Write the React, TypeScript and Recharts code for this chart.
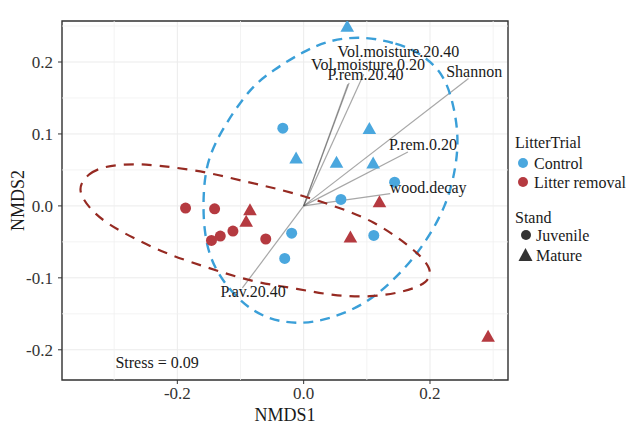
import React from "react";
import {
  ComposedChart,
  Scatter,
  XAxis,
  YAxis,
  CartesianGrid,
  ReferenceLine,
  ReferenceArea,
  Legend,
} from "recharts";

// ─── Data ─────────────────────────────────────────────────────────
const X_DOMAIN: [number, number] = [-0.3826, 0.3235];
const Y_DOMAIN: [number, number] = [-0.242, 0.257];
const X_TICKS = [-0.2, 0, 0.2];
const Y_TICKS = [-0.2, -0.1, 0, 0.1, 0.2];
const X_MINOR = [-0.3, -0.1, 0.1, 0.3];
const Y_MINOR = [-0.15, -0.05, 0.05, 0.15, 0.25];

const controlJuvenile = [
  { x: -0.033, y: 0.108 },
  { x: 0.144, y: 0.033 },
  { x: 0.059, y: 0.009 },
  { x: -0.019, y: -0.038 },
  { x: -0.03, y: -0.073 },
  { x: 0.111, y: -0.041 },
];
const controlMature = [
  { x: 0.069, y: 0.249 },
  { x: -0.012, y: 0.066 },
  { x: 0.052, y: 0.06 },
  { x: 0.104, y: 0.107 },
  { x: 0.11, y: 0.059 },
];
const litterJuvenile = [
  { x: -0.187, y: -0.003 },
  { x: -0.141, y: -0.004 },
  { x: -0.146, y: -0.048 },
  { x: -0.132, y: -0.042 },
  { x: -0.112, y: -0.035 },
  { x: -0.06, y: -0.046 },
];
const litterMature = [
  { x: -0.085, y: -0.006 },
  { x: -0.091, y: -0.022 },
  { x: 0.12, y: 0.005 },
  { x: 0.074, y: -0.044 },
  { x: 0.292, y: -0.182 },
];

// ellipse outlines
const controlEllipse = [
  { x: 0.0945, y: 0.236 }, { x: 0.148, y: 0.226 }, { x: 0.185, y: 0.2125 },
  { x: 0.221, y: 0.185 }, { x: 0.237, y: 0.143 }, { x: 0.245, y: 0.099 },
  { x: 0.242, y: 0.057 }, { x: 0.227, y: 0.001 }, { x: 0.189, y: -0.057 },
  { x: 0.148, y: -0.099 }, { x: 0.101, y: -0.135 }, { x: 0.047, y: -0.156 },
  { x: -0.005, y: -0.165 }, { x: -0.057, y: -0.158 }, { x: -0.1, y: -0.135 },
  { x: -0.145, y: -0.086 }, { x: -0.159, y: -0.033 }, { x: -0.159, y: 0.026 },
  { x: -0.151, y: 0.068 }, { x: -0.127, y: 0.11 }, { x: -0.084, y: 0.165 },
  { x: -0.048, y: 0.189 }, { x: 0.0, y: 0.215 }, { x: 0.042, y: 0.231 },
];
const litterEllipse = [
  { x: -0.354, y: 0.03 }, { x: -0.34, y: 0.045 }, { x: -0.319, y: 0.054 },
  { x: -0.287, y: 0.058 }, { x: -0.251, y: 0.058 }, { x: -0.208, y: 0.054 },
  { x: -0.148, y: 0.046 }, { x: -0.089, y: 0.033 }, { x: -0.042, y: 0.024 },
  { x: 0.011, y: 0.011 }, { x: 0.074, y: -0.008 }, { x: 0.11, y: -0.022 },
  { x: 0.148, y: -0.043 }, { x: 0.18, y: -0.065 }, { x: 0.203, y: -0.087 },
  { x: 0.198, y: -0.107 }, { x: 0.158, y: -0.12 }, { x: 0.106, y: -0.127 },
  { x: 0.047, y: -0.125 }, { x: -0.01, y: -0.115 }, { x: -0.073, y: -0.107 },
  { x: -0.127, y: -0.093 }, { x: -0.179, y: -0.078 }, { x: -0.224, y: -0.064 },
  { x: -0.271, y: -0.044 }, { x: -0.309, y: -0.026 }, { x: -0.337, y: -0.006 },
  { x: -0.354, y: 0.016 },
];

// envfit vectors (arrow tips) and their label positions
const envVectors = [
  { name: "Vol.moisture.20.40", x: 0.095, y: 0.183 },
  { name: "Vol.moisture.0.20", x: 0.072, y: 0.171 },
  { name: "P.rem.20.40", x: 0.07, y: 0.169 },
  { name: "Shannon", x: 0.261, y: 0.177 },
  { name: "P.rem.0.20", x: 0.165, y: 0.075 },
  { name: "wood.decay", x: 0.137, y: 0.017 },
  { name: "P.av.20.40", x: -0.097, y: -0.114 },
];
const vectorLabels = [
  { name: "Vol.moisture.20.40", x: 0.15, y: 0.214 },
  { name: "Vol.moisture.0.20", x: 0.102, y: 0.197 },
  { name: "P.rem.20.40", x: 0.098, y: 0.182 },
  { name: "Shannon", x: 0.27, y: 0.187 },
  { name: "P.rem.0.20", x: 0.189, y: 0.085 },
  { name: "wood.decay", x: 0.197, y: 0.025 },
  { name: "P.av.20.40", x: -0.08, y: -0.119 },
];
const stressNote = [{ name: "Stress = 0.09", x: -0.298, y: -0.218 }];

const trialLegend = ["Control", "Litter removal"];
const standLegend = ["Juvenile", "Mature"];

// ─── Styling ──────────────────────────────────────────────────────
const FONT = "Liberation Serif, DejaVu Serif, serif";
const BLUE = "#4aa7de";
const RED = "#b53a40";
const BLUE_LINE = "#3a9fd8";
const RED_LINE = "#962a22";
const INK = "#333333";

const circleShape = (color: string) => (p: any) =>
  <circle cx={p.cx} cy={p.cy} r={5.5} fill={color} />;

const triangleShape = (color: string) => (p: any) => (
  <path
    d={`M${p.cx},${p.cy - 7}L${p.cx + 6.8},${p.cy + 5}L${p.cx - 6.8},${p.cy + 5}Z`}
    fill={color}
  />
);

const textShape = (anchor: "middle" | "start") => (p: any) => (
  <text
    x={p.cx}
    y={p.cy}
    textAnchor={anchor}
    dominantBaseline="central"
    fontFamily={FONT}
    fontSize={16}
    fill="#1a1a1a"
  >
    {p.payload.name}
  </text>
);

const noShape = () => <g />;

function LegendBox() {
  const trialColors = [BLUE, RED];
  return (
    <svg width={121} height={150} fontFamily={FONT} fontSize={16}>
      <text x={7} y={22} dominantBaseline="central" fill="#1a1a1a">LitterTrial</text>
      {trialLegend.map((name, i) => (
        <g key={name}>
          <circle cx={15} cy={43 + i * 19} r={5} fill={trialColors[i]} />
          <text x={26} y={43 + i * 19} dominantBaseline="central" fill="#1a1a1a">{name}</text>
        </g>
      ))}
      <text x={7} y={97} dominantBaseline="central" fill="#1a1a1a">Stand</text>
      <circle cx={18} cy={115} r={5} fill={INK} />
      <text x={28} y={115} dominantBaseline="central" fill="#1a1a1a">{standLegend[0]}</text>
      <path d="M17.5,128L24.5,141L10.5,141Z" fill={INK} />
      <text x={28} y={135} dominantBaseline="central" fill="#1a1a1a">{standLegend[1]}</text>
    </svg>
  );
}

export default function App() {
  const tick = { fill: INK, fontSize: 17, fontFamily: FONT };
  return (
    <div style={{ position: "absolute", left: 0, top: 0, background: "#fff", fontFamily: FONT }}>
      <ComposedChart
        width={629}
        height={426}
        margin={{ top: 21, right: 121, bottom: 0, left: 0 }}
      >
        <CartesianGrid stroke="#ebebeb" strokeWidth={1} />
        {X_MINOR.map((v) => (
          <ReferenceLine key={`mx${v}`} x={v} stroke="#f0f0f0" strokeWidth={0.8} />
        ))}
        {Y_MINOR.map((v) => (
          <ReferenceLine key={`my${v}`} y={v} stroke="#f0f0f0" strokeWidth={0.8} />
        ))}
        <XAxis
          type="number"
          dataKey="x"
          domain={X_DOMAIN}
          ticks={X_TICKS}
          allowDataOverflow
          height={46}
          tickSize={4}
          tickMargin={3}
          axisLine={false}
          tickLine={{ stroke: INK }}
          tick={tick}
          tickFormatter={(v: number) => v.toFixed(1)}
          label={{ value: "NMDS1", position: "insideBottom", offset: 5, fill: "#1a1a1a", fontSize: 18, fontFamily: FONT }}
        />
        <YAxis
          type="number"
          dataKey="y"
          domain={Y_DOMAIN}
          ticks={Y_TICKS}
          allowDataOverflow
          width={62}
          tickSize={4}
          tickMargin={5}
          axisLine={false}
          tickLine={{ stroke: INK }}
          tick={tick}
          tickFormatter={(v: number) => v.toFixed(1)}
          label={{ value: "NMDS2", angle: -90, position: "insideLeft", offset: 18, fill: "#1a1a1a", fontSize: 18, fontFamily: FONT, style: { textAnchor: "middle" } }}
        />
        <ReferenceArea
          x1={X_DOMAIN[0]}
          x2={X_DOMAIN[1]}
          y1={Y_DOMAIN[0]}
          y2={Y_DOMAIN[1]}
          fill="none"
          stroke={INK}
          strokeWidth={1.4}
        />
        <Scatter
          data={controlEllipse}
          shape={noShape}
          line={{ stroke: BLUE_LINE, strokeWidth: 2.4, strokeDasharray: "10 7" }}
          lineJointType="basisClosed"
          isAnimationActive={false}
        />
        <Scatter
          data={litterEllipse}
          shape={noShape}
          line={{ stroke: RED_LINE, strokeWidth: 2.2, strokeDasharray: "10 8" }}
          lineJointType="basisClosed"
          isAnimationActive={false}
        />
        {envVectors.map((v) => (
          <ReferenceLine
            key={v.name}
            segment={[{ x: 0, y: 0 }, { x: v.x, y: v.y }]}
            stroke="#505050"
            strokeOpacity={0.5}
            strokeWidth={1.2}
          />
        ))}
        <Scatter data={controlJuvenile} shape={circleShape(BLUE)} isAnimationActive={false} />
        <Scatter data={controlMature} shape={triangleShape(BLUE)} isAnimationActive={false} />
        <Scatter data={litterJuvenile} shape={circleShape(RED)} isAnimationActive={false} />
        <Scatter data={litterMature} shape={triangleShape(RED)} isAnimationActive={false} />
        <Scatter data={vectorLabels} shape={textShape("middle")} isAnimationActive={false} />
        <Scatter data={stressNote} shape={textShape("start")} isAnimationActive={false} />
        <Legend
          layout="vertical"
          align="center"
          verticalAlign="middle"
          wrapperStyle={{ left: 508, top: 120, width: 121 }}
          content={() => <LegendBox />}
        />
      </ComposedChart>
    </div>
  );
}
